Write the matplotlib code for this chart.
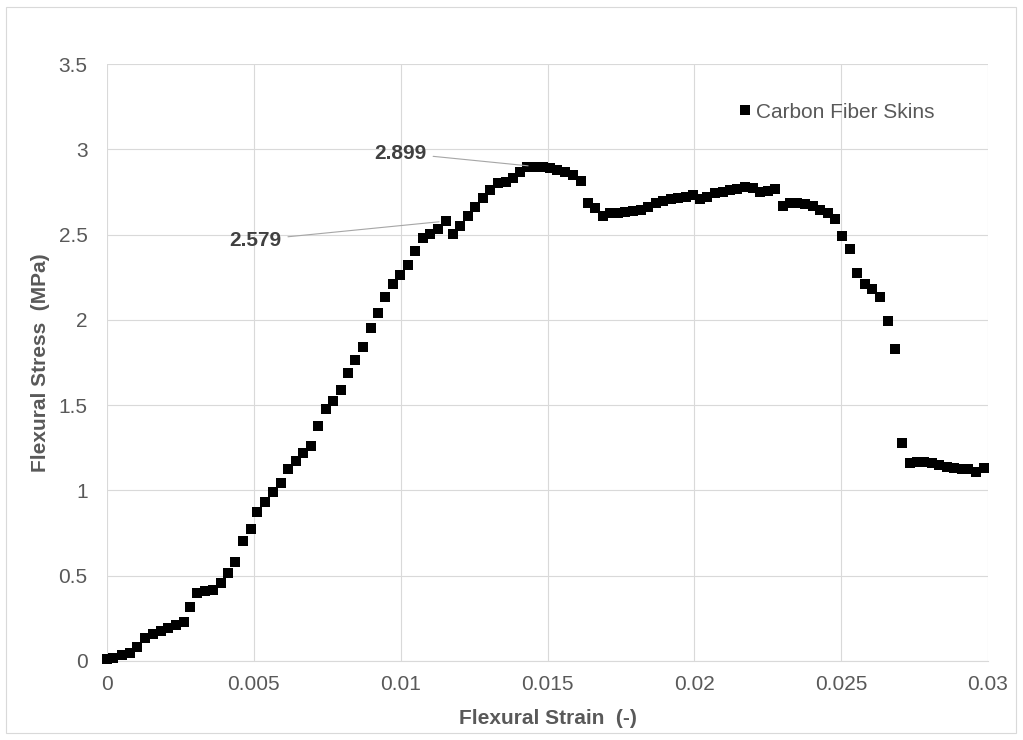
import matplotlib
matplotlib.use("Agg")
import matplotlib.pyplot as plt
from matplotlib.ticker import FuncFormatter, MultipleLocator
from matplotlib.patches import Rectangle

# Flexural test readings: strain (-) and stress (MPa)
strain = [
    0.000000, 0.000215, 0.000501, 0.000783, 0.001032, 0.001294, 0.001556, 0.001829,
    0.002087, 0.002350, 0.002622, 0.002826, 0.003075, 0.003337, 0.003620, 0.003872,
    0.004131, 0.004359, 0.004621, 0.004893, 0.005118, 0.005380, 0.005643, 0.005925,
    0.006174, 0.006436, 0.006684, 0.006930, 0.007185, 0.007457, 0.007706, 0.007968,
    0.008196, 0.008455, 0.008728, 0.008980, 0.009218, 0.009477, 0.009729, 0.009977,
    0.010260, 0.010488, 0.010750, 0.010999, 0.011271, 0.011544, 0.011772, 0.012020,
    0.012293, 0.012531, 0.012793, 0.013042, 0.013304, 0.013577, 0.013835, 0.014063,
    0.014312, 0.014574, 0.014836, 0.015085, 0.015334, 0.015596, 0.015879, 0.016130,
    0.016389, 0.016617, 0.016880, 0.017128, 0.017411, 0.017656, 0.017921, 0.018173,
    0.018432, 0.018694, 0.018943, 0.019195, 0.019454, 0.019706, 0.019944, 0.020193,
    0.020441, 0.020703, 0.020966, 0.021214, 0.021463, 0.021725, 0.021987, 0.022236,
    0.022498, 0.022757, 0.023009, 0.023258, 0.023506, 0.023768, 0.024030, 0.024279,
    0.024541, 0.024790, 0.025018, 0.025301, 0.025549, 0.025811, 0.026060, 0.026322,
    0.026584, 0.026833, 0.027071, 0.027327, 0.027582, 0.027837, 0.028082, 0.028341,
    0.028593, 0.028842, 0.029104, 0.029329, 0.029591, 0.029863,
]
stress = [
    0.010, 0.016, 0.035, 0.049, 0.084, 0.133, 0.157, 0.178,
    0.192, 0.211, 0.230, 0.318, 0.397, 0.412, 0.416, 0.456,
    0.514, 0.582, 0.705, 0.772, 0.875, 0.934, 0.993, 1.045,
    1.127, 1.173, 1.218, 1.263, 1.378, 1.477, 1.526, 1.589,
    1.687, 1.765, 1.839, 1.951, 2.038, 2.136, 2.210, 2.263,
    2.322, 2.404, 2.478, 2.506, 2.533, 2.579, 2.506, 2.553,
    2.608, 2.660, 2.713, 2.761, 2.801, 2.810, 2.830, 2.869,
    2.894, 2.899, 2.898, 2.889, 2.879, 2.869, 2.849, 2.816,
    2.683, 2.654, 2.608, 2.625, 2.628, 2.632, 2.637, 2.644,
    2.663, 2.683, 2.699, 2.707, 2.713, 2.722, 2.732, 2.707,
    2.722, 2.742, 2.751, 2.761, 2.767, 2.777, 2.771, 2.751,
    2.757, 2.765, 2.668, 2.683, 2.687, 2.680, 2.670, 2.644,
    2.625, 2.592, 2.489, 2.414, 2.273, 2.210, 2.179, 2.136,
    1.995, 1.827, 1.278, 1.161, 1.167, 1.167, 1.159, 1.149,
    1.139, 1.130, 1.124, 1.124, 1.110, 1.130,
]
series_name = "Carbon Fiber Skins"

# Labelled points: index into the series, label text position
labelled = [(45, (0.00504, 2.468)), (57, (0.00998, 2.978))]

plt.rcParams["font.family"] = ["Liberation Sans", "DejaVu Sans"]
TEXT = "#595959"
GRID = "#d9d9d9"

fig = plt.figure(figsize=(10.23, 7.40), dpi=100)
fig.patches.append(Rectangle((6 / 1023, 7 / 740), 1010 / 1023, 726 / 740,
                             transform=fig.transFigure, fill=False,
                             edgecolor=GRID, linewidth=0.8))
ax = fig.add_axes([107 / 1023, 1 - 661 / 740, 881 / 1023, 597 / 740])

ax.plot(strain, stress, linestyle="none", marker="s", markersize=7.3,
        markeredgewidth=0, color="black", label=series_name,
        clip_on=False, zorder=3)

ax.set_xlim(0, 0.03)
ax.set_ylim(0, 3.5)
ax.xaxis.set_major_locator(MultipleLocator(0.005))
ax.yaxis.set_major_locator(MultipleLocator(0.5))
fmt = FuncFormatter(lambda v, p: f"{v:.4g}")
ax.xaxis.set_major_formatter(fmt)
ax.yaxis.set_major_formatter(fmt)

ax.grid(True, color=GRID, linewidth=0.8)
ax.set_axisbelow(True)
for side in ("top", "right", "left"):
    ax.spines[side].set_visible(False)
ax.spines["bottom"].set_color(GRID)
ax.spines["bottom"].set_linewidth(0.8)
ax.tick_params(length=0, labelsize=15, colors=TEXT, pad=10)
ax.tick_params(axis="y", pad=14)

ax.set_xlabel("Flexural Strain  (-)", fontsize=15, fontweight="bold",
              color=TEXT, labelpad=11)
ax.set_ylabel("Flexural Stress  (MPa)", fontsize=15, fontweight="bold",
              color=TEXT, labelpad=6)

for idx, (tx, ty) in labelled:
    ax.annotate(f"{stress[idx]:.3f}", xy=(strain[idx], stress[idx]),
                xytext=(tx, ty), ha="center", va="center",
                fontsize=15, fontweight="bold", color="#404040",
                arrowprops=dict(arrowstyle="-", color="#a6a6a6", lw=0.8,
                                shrinkA=3, shrinkB=5), zorder=4)

fig.legend(loc="center left", bbox_to_anchor=(731 / 1023, 1 - 112 / 740),
           frameon=False, fontsize=15, handlelength=0.5, handletextpad=0.3,
           markerscale=1.0, labelcolor=TEXT, borderaxespad=0)

fig.savefig("out.png", dpi=100)
